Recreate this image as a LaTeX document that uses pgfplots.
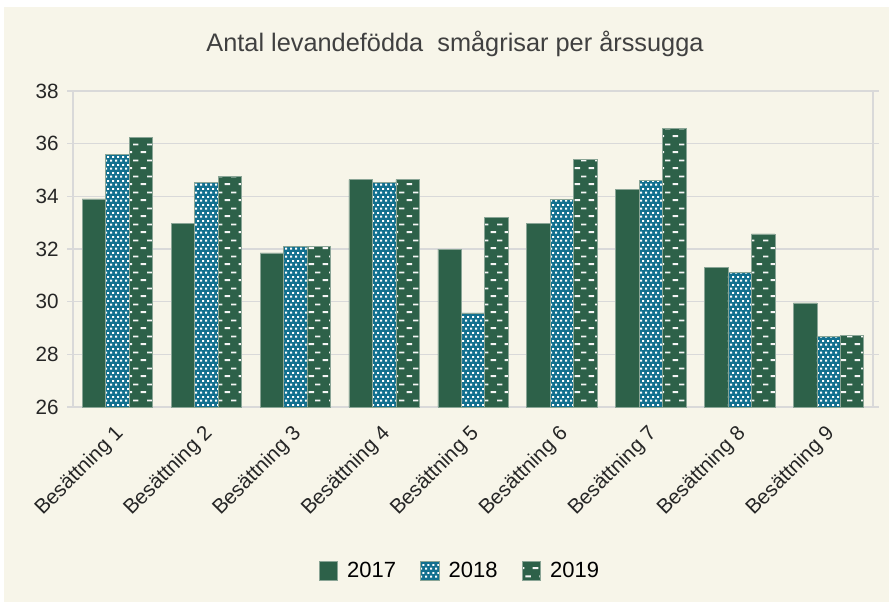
\documentclass[border=0pt]{standalone}
\usepackage{fontspec}
\setmainfont{Liberation Sans}
\usepackage{pgfplots}
\pgfplotsset{compat=1.18}
\usetikzlibrary{patterns}

\definecolor{bgcream}{HTML}{F7F5E9}
\definecolor{gridgray}{HTML}{D9D9D9}
\definecolor{bargreen}{HTML}{2D6149}
\definecolor{barteal}{HTML}{12708F}
\definecolor{baredge}{HTML}{8AA596}
\definecolor{titlegray}{HTML}{404040}

% small staggered white blocks (2018)
\pgfdeclarepatternformonly{confetti}{\pgfqpoint{0pt}{0pt}}{\pgfqpoint{3.75pt}{6pt}}{\pgfqpoint{3.75pt}{6pt}}{%
  \pgfpathrectangle{\pgfqpoint{0.08pt}{0.4pt}}{\pgfqpoint{1.8pt}{1.5pt}}%
  \pgfpathrectangle{\pgfqpoint{1.95pt}{3.4pt}}{\pgfqpoint{1.8pt}{1.5pt}}%
  \pgfusepath{fill}}
% staggered white dashes (2019)
\pgfdeclarepatternformonly{dashhoriz}{\pgfqpoint{0pt}{0pt}}{\pgfqpoint{10.5pt}{12pt}}{\pgfqpoint{10.5pt}{12pt}}{%
  \pgfpathrectangle{\pgfqpoint{0.5pt}{0.75pt}}{\pgfqpoint{4.5pt}{1.5pt}}%
  \pgfpathrectangle{\pgfqpoint{5.75pt}{6.75pt}}{\pgfqpoint{4.25pt}{1.5pt}}%
  \pgfusepath{fill}}

\pgfplotstableread{
x  y17   y18   y19
1  33.90 35.60 36.25
2  32.97 34.53 34.77
3  31.85 32.09 32.09
4  34.63 34.53 34.63
5  32.00 29.57 33.20
6  32.98 33.88 35.40
7  34.25 34.60 36.57
8  31.30 31.10 32.57
9  29.95 28.67 28.73
}\herds

\begin{document}
\begin{tikzpicture}
\useasboundingbox (0,0) rectangle (666.75pt,-451.5pt);
\fill[white] (0,0) rectangle (666.75pt,-451.5pt);
\fill[bgcream] (3pt,-5.25pt) rectangle (666.75pt,-451.5pt);
\begin{axis}[
  at={(54.75pt,-305.25pt)}, anchor=south west,
  scale only axis, width=600pt, height=237pt,
  ybar=0pt, bar width=17.6pt,
  xmin=0.5, xmax=9.5, ymin=26, ymax=38,
  xtick={1,...,9},
  xticklabels={Besättning 1,Besättning 2,Besättning 3,Besättning 4,Besättning 5,Besättning 6,Besättning 7,Besättning 8,Besättning 9},
  ytick={26,28,...,38},
  /pgf/number format/assume math mode=true,
  tick align=outside,
  x tick style={draw=none},
  y tick style={draw=gridgray, line width=1.1pt},
  major tick length=4.5pt,
  ymajorgrids, grid style={draw=gridgray, line width=1.1pt},
  axis line style={draw=gridgray, line width=1.1pt},
  tick label style={font=\fontsize{15.5}{17}\selectfont, text=black!85},
  yticklabel style={inner sep=0pt, xshift=-6pt},
  xticklabel style={xshift=-3pt, yshift=-8pt, rotate=45, anchor=north east, inner sep=0pt},
  title={Antal levandefödda\ \ smågrisar per årssugga},
  title style={at={(axis description cs:0.4775,1)}, anchor=center, yshift=29.5pt,
    font=\fontsize{19}{21}\selectfont, text=titlegray},
  legend style={at={(axis description cs:0.484,0)}, anchor=center, yshift=-123pt,
    draw=none, fill=none, font=\fontsize{16.5}{18}\selectfont,
    /tikz/every odd column/.append style={column sep=5pt},
    /tikz/every even column/.append style={column sep=16pt}},
  legend columns=-1,
  legend image code/.code={\draw[#1] (0pt,-7pt) rectangle (14pt,7pt);},
]
\addplot[fill=bargreen, draw=baredge, line width=0.4pt] table[x=x, y=y17] {\herds};
\addplot[fill=barteal, draw=baredge, line width=0.4pt,
  postaction={pattern=confetti, pattern color=white}] table[x=x, y=y18] {\herds};
\addplot[fill=bargreen, draw=baredge, line width=0.4pt,
  postaction={pattern=dashhoriz, pattern color=white!92!gray}] table[x=x, y=y19] {\herds};
\legend{2017,2018,2019}
\end{axis}
\end{tikzpicture}
\end{document}
